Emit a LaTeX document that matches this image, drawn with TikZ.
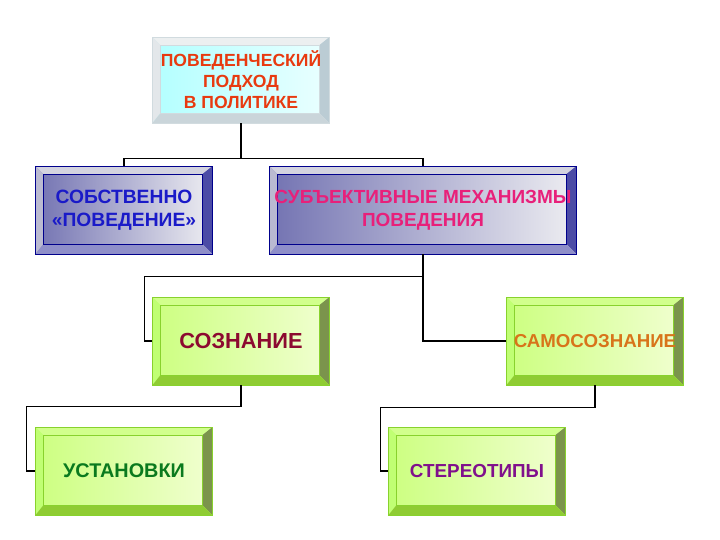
\documentclass[tikz,border=0pt]{standalone}
\usepackage{fontspec}
\setmainfont{Liberation Sans}
\usepackage{tikz}
\usetikzlibrary{calc}

\newcommand{\px}{0.25mm}

% text colours
\definecolor{polred}{HTML}{E83A10}
\definecolor{ownblue}{HTML}{1A1AC8}
\definecolor{subjpink}{HTML}{E8207A}
\definecolor{sozred}{HTML}{8C0A30}
\definecolor{samoorange}{HTML}{D8741A}
\definecolor{ustgreen}{HTML}{0A7A1E}
\definecolor{sterpurple}{HTML}{80108C}

\tikzset{
  box/.style={inner sep=0pt, align=center,
    font=\bfseries\fontsize{12.5}{15}\selectfont,
    minimum width=177*\px, minimum height=88*\px},
  fsize/.style={font=\bfseries\fontsize{#1}{16.5}\selectfont},
  % face left/face right/top/left/right/bottom/edge
  bevel/.style args={#1/#2/#3/#4/#5/#6/#7}{draw=#7, line width=0.5pt,
    path picture={
      \coordinate (nw) at (path picture bounding box.north west);
      \coordinate (ne) at (path picture bounding box.north east);
      \coordinate (sw) at (path picture bounding box.south west);
      \coordinate (se) at (path picture bounding box.south east);
      \shade[left color=#1, middle color=white, right color=#2] (nw) rectangle (se);
      \fill[#3] (nw) -- (ne) -- ($(ne)+(-10,8)$) -- ($(nw)+(8,8)$) -- cycle;
      \fill[#4] (nw) -- ($(nw)+(8,8)$) -- ($(sw)+(8,-10)$) -- (sw) -- cycle;
      \fill[#5] (ne) -- (se) -- ($(se)+(-10,-10)$) -- ($(ne)+(-10,8)$) -- cycle;
      \fill[#6] (sw) -- (se) -- ($(se)+(-10,-10)$) -- ($(sw)+(8,-10)$) -- cycle;
      \draw[#7, line width=0.4pt] ($(nw)+(8,8)$) rectangle ($(se)+(-10,-10)$);
    }},
  cyanbox/.style={box, bevel={cyan!30!white/cyan!8!white/cyan!12!gray!15!white/cyan!15!gray!22!white/cyan!25!gray!50!white/cyan!20!gray!40!white/cyan!20!gray!35!white}},
  navybox/.style={box, bevel={blue!45!black!55!white/blue!12!gray!12!white/blue!15!gray!30!white/blue!20!gray!45!white/blue!50!black!70!white/blue!35!gray!65!white/blue!55!black}},
  greenbox/.style={box, bevel={green!40!yellow!50!white/green!30!yellow!18!white/green!40!yellow!45!white/green!45!yellow!55!white/green!35!yellow!40!black!70!white/green!40!yellow!60!gray/green!45!yellow!65!gray}},
  link/.style={line width=0.8pt}
}

\begin{document}
\begin{tikzpicture}[x=\px, y=-\px]
\useasboundingbox (0,0) rectangle (720,540);

% top level
\node[cyanbox, minimum height=86*\px, text=polred] (pol) at (241,80)
  {ПОВЕДЕНЧЕСКИЙ\\ПОДХОД\\В ПОЛИТИКЕ};

% second level
\node[navybox, fsize=13.7, text=ownblue] (own) at (124,210) {СОБСТВЕННО\\«ПОВЕДЕНИЕ»};
\node[navybox, fsize=13.5, minimum width=307*\px, text=subjpink] (subj) at (423,210)
  {СУБЪЕКТИВНЫЕ МЕХАНИЗМЫ\\ПОВЕДЕНИЯ};

% third level
\node[greenbox, fsize=15.5, text=sozred] (soz) at (241,341) {СОЗНАНИЕ};
\node[greenbox, fsize=13.3, text=samoorange] (samo) at (595,341) {САМОСОЗНАНИЕ};

% fourth level
\node[greenbox, fsize=14.1, text=ustgreen] (ust) at (124,471) {УСТАНОВКИ};
\node[greenbox, fsize=13.4, text=sterpurple] (ster) at (477,471) {СТЕРЕОТИПЫ};

% connections
\draw[link] (pol.south) -- ++(0,35) coordinate (j1);
\draw[link] (j1) -| (own.north);
\draw[link] (j1) -| (subj.north);
\draw[link] (subj.south) -- ++(0,22) coordinate (j2);
\draw[link] (j2) -| ($(soz.west)+(-8,0)$) -- (soz.west);
\draw[link] (j2) |- (samo.west);
\draw[link] (soz.south) -- ++(0,21) -| ($(ust.west)+(-9,0)$) -- (ust.west);
\draw[link] (samo.south) -- ++(0,22) -| ($(ster.west)+(-8,0)$) -- (ster.west);
\end{tikzpicture}
\end{document}
